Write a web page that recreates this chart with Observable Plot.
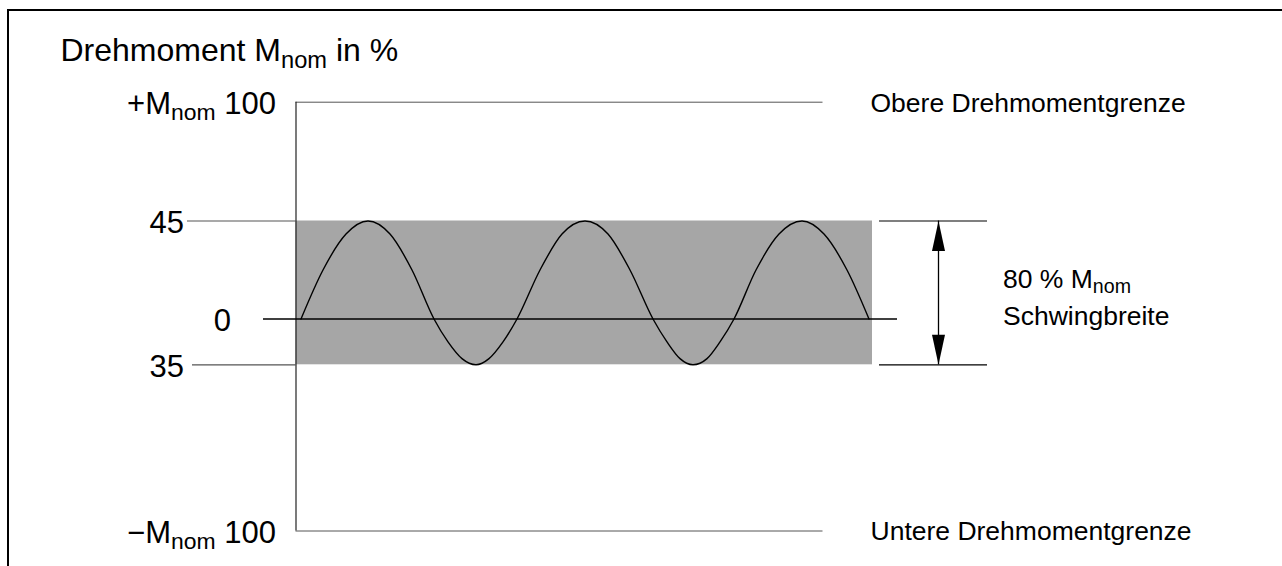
<!DOCTYPE html>
<html><head><meta charset="utf-8">
<script src="https://cdn.jsdelivr.net/npm/d3@7"></script>
<script src="https://cdn.jsdelivr.net/npm/@observablehq/plot@0.6"></script>
<style>
html,body{margin:0;padding:0;background:#fff;overflow:hidden}
#wrap{position:relative;width:1282px;height:566px;overflow:hidden}
#frame{position:absolute;left:7px;top:9px;width:1400px;height:700px;border-top:2px solid #000;border-left:2px solid #000}
#chart{position:absolute;left:0;top:0}
#chart svg{font-family:"Liberation Sans",Arial,sans-serif;overflow:visible}
</style></head><body><div id="wrap"><div id="frame"></div><div id="chart"></div></div>
<script>
// ---- data ----
const yLevels = [-100, -35, 0, 45, 100];
const tickValues = [100, 45, 0, -35, -100];
const tickLabels = ["+Mnom 100", "45", "0", "35", "\u2212Mnom 100"];
const limitValues = [100, -100];
const limitLabels = ["Obere Drehmomentgrenze", "Untere Drehmomentgrenze"];
const bandLow = -35, bandHigh = 45;
const swingLabel = "80 % Mnom\nSchwingbreite";
const titleText = "Drehmoment Mnom in %";
// schematic torque wave (time in arbitrary units, torque in % of M_nom)
const waveT = [5,27,50,72,94,116,138, 152,166,180,193,207,221, 244,266,289,312,334,357, 371,384,397,411,424,438, 460,483,506,528,551,573];
const waveM = [0,22.5,39,45,39,22.5,0, -17.5,-30.3,-35,-30.3,-17.5,0, 22.5,39,45,39,22.5,0, -17.5,-30.3,-35,-30.3,-17.5,0, 22.5,39,45,39,22.5,0];

// ---- layout (time units along x) ----
const L = {
  axisT: 0, limitEnd: 527, bandEnd: 576.5, zeroStart: -32.5, zeroEnd: 601.5,
  tick45Start: -108.5, tick35Start: -103.5, refStart: 583.5, refEnd: 691.5, arrowT: 642.5,
  labelRight: {"100": -20, "45": -112, "0": -65, "-35": -112, "-100": -20},
  limitLabelT: 574.5, swingT: 707
};
// schematic (non-uniform) vertical spacing of the torque levels, as in the drawing
const levelHeights = [35.5, 201.7, 247.5, 345.5, 464.3];
const yWarp = d3.scaleLinear().domain(yLevels).range(levelHeights);

const wave = waveT.map((t, i) => ({t, m: waveM[i]}));
const ticks = tickValues.map((v, i) => ({v, label: tickLabels[i], t: L.labelRight[String(v)]}));
const limits = limitValues.map((v, i) => ({v, label: limitLabels[i]}));

const chart = Plot.plot({
  width: 1282, height: 566,
  marginTop: 0, marginRight: 0, marginBottom: 0, marginLeft: 0,
  x: {domain: [-295.5, 986.5], range: [0, 1282], axis: null},
  y: {transform: v => yWarp(v), range: [530.5, 101.7], axis: null},
  style: {background: "transparent", fontFamily: "Liberation Sans, Arial, sans-serif"},
  marks: [
    Plot.rect([0], {x1: L.axisT, x2: L.bandEnd, y1: bandLow, y2: bandHigh, fill: "#a6a6a6"}),
    Plot.ruleY(limits, {y: "v", x1: L.axisT, x2: L.limitEnd, stroke: "#555", strokeWidth: 1}),
    Plot.ruleY([bandHigh], {x1: L.tick45Start, x2: L.axisT, stroke: "#555", strokeWidth: 1.2}),
    Plot.ruleY([bandLow], {x1: L.tick35Start, x2: L.axisT, stroke: "#555", strokeWidth: 1.2}),
    Plot.ruleX([L.axisT], {y1: -100, y2: 100, stroke: "#222", strokeWidth: 1.2}),
    Plot.ruleY([0], {x1: L.zeroStart, x2: L.zeroEnd, stroke: "#000", strokeWidth: 1.5}),
    Plot.line(wave, {x: "t", y: "m", curve: "monotone-x", stroke: "#000", strokeWidth: 1.4}),
    Plot.ruleY([bandHigh, bandLow], {x1: L.refStart, x2: L.refEnd, stroke: "#000", strokeWidth: 1.2}),
    Plot.ruleX([L.arrowT], {y1: bandLow, y2: bandHigh, stroke: "#000", strokeWidth: 1.3}),
    Plot.vector([0], {x: L.arrowT, y: bandHigh, length: 30, rotate: 0, anchor: "end", shape: "spike", r: 6.5, fill: "#000", stroke: "none"}),
    Plot.vector([0], {x: L.arrowT, y: bandLow, length: 30, rotate: 180, anchor: "end", shape: "spike", r: 6.5, fill: "#000", stroke: "none"}),
    Plot.text(ticks, {x: "t", y: "v", text: "label", textAnchor: "end", fontSize: 31, fill: "#000", dy: 2}),
    Plot.text(limits, {x: L.limitLabelT, y: "v", text: "label", textAnchor: "start", fontSize: 26.5, fill: "#000", dy: 1}),
    Plot.text([swingLabel], {x: L.swingT, y: bandHigh, text: d => d, textAnchor: "start", lineAnchor: "top", fontSize: 26.5, lineHeight: 1.38, fill: "#000", dy: 41}),
    Plot.text([titleText], {frameAnchor: "top-left", text: d => d, textAnchor: "start", lineAnchor: "top", dx: 60, dy: 38, fontSize: 32, fill: "#000"})
  ]
});

// subscripts for "Mnom"
const svgNS = "http://www.w3.org/2000/svg";
const walker = document.createTreeWalker(chart, NodeFilter.SHOW_TEXT);
const nodes = [];
while (walker.nextNode()) if (walker.currentNode.nodeValue.includes("Mnom")) nodes.push(walker.currentNode);
for (const n of nodes) {
  const [a, b] = n.nodeValue.split("Mnom");
  const parent = n.parentNode;
  parent.insertBefore(document.createTextNode(a + "M"), n);
  const sub = document.createElementNS(svgNS, "tspan");
  sub.setAttribute("font-size", "0.74em");
  sub.setAttribute("baseline-shift", "-0.28em");
  sub.textContent = "nom";
  parent.insertBefore(sub, n);
  if (b) parent.insertBefore(document.createTextNode(b), n);
  parent.removeChild(n);
}
document.getElementById("chart").appendChild(chart);
</script>
</body></html>
